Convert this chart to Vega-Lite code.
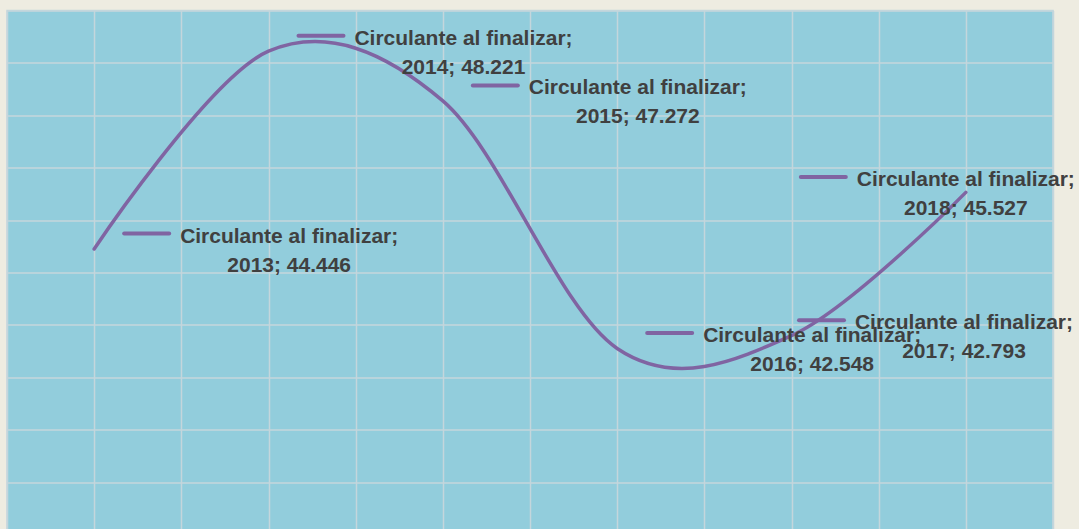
{
  "$schema": "https://vega.github.io/schema/vega-lite/v6.json",
  "width": 1046,
  "height": 524,
  "autosize": {"type": "none"},
  "padding": {"left": 7, "top": 10.4, "right": 26, "bottom": 0},
  "background": "#EEECE1",
  "config": {
    "view": {"fill": "#92CDDC", "stroke": "#C4D6DC", "strokeWidth": 1.5},
    "axis": {"labels": false, "ticks": false, "domain": false, "title": null, "gridColor": "#C4D6DC", "gridWidth": 1.5, "gridOpacity": 1}
  },
  "datasets": {
    "datos": [
      {"anio": 2013, "valor": 44.446, "serie": "Circulante al finalizar", "etiqueta": "Circulante al finalizar;\n2013; 44.446"},
      {"anio": 2014, "valor": 48.221, "serie": "Circulante al finalizar", "etiqueta": "Circulante al finalizar;\n2014; 48.221"},
      {"anio": 2015, "valor": 47.272, "serie": "Circulante al finalizar", "etiqueta": "Circulante al finalizar;\n2015; 47.272"},
      {"anio": 2016, "valor": 42.548, "serie": "Circulante al finalizar", "etiqueta": "Circulante al finalizar;\n2016; 42.548"},
      {"anio": 2017, "valor": 42.793, "serie": "Circulante al finalizar", "etiqueta": "Circulante al finalizar;\n2017; 42.793"},
      {"anio": 2018, "valor": 45.527, "serie": "Circulante al finalizar", "etiqueta": "Circulante al finalizar;\n2018; 45.527"}
    ]
  },
  "data": {"name": "datos"},
  "encoding": {
    "x": {"field": "anio", "type": "quantitative", "scale": {"domain": [2012.5, 2018.5], "nice": false, "zero": false},
      "axis": {"values": [2012.5, 2013, 2013.5, 2014, 2014.5, 2015, 2015.5, 2016, 2016.5, 2017, 2017.5, 2018, 2018.5]}},
    "y": {"field": "valor", "type": "quantitative", "scale": {"domain": [39, 49], "nice": false, "zero": false},
      "axis": {"values": [39, 40, 41, 42, 43, 44, 45, 46, 47, 48, 49]}}
  },
  "layer": [
    {"mark": {"type": "line", "interpolate": "cardinal", "color": "#8064A2", "strokeWidth": 3.5, "strokeCap": "round"}},
    {"transform": [{"filter": "datum.anio <= 2016"}],
     "mark": {"type": "rule", "color": "#8064A2", "strokeWidth": 4, "strokeCap": "round", "xOffset": 30, "x2Offset": 75, "yOffset": -15.5},
     "encoding": {"x2": {"field": "anio"}}},
    {"transform": [{"filter": "datum.anio == 2017"}],
     "mark": {"type": "rule", "color": "#8064A2", "strokeWidth": 4, "strokeCap": "round", "xOffset": 7.5, "x2Offset": 52.5, "yOffset": -15.5},
     "encoding": {"x2": {"field": "anio"}}},
    {"transform": [{"filter": "datum.anio == 2018"}],
     "mark": {"type": "rule", "color": "#8064A2", "strokeWidth": 4, "strokeCap": "round", "xOffset": -165, "x2Offset": -120, "yOffset": -15.5},
     "encoding": {"x2": {"field": "anio"}}},
    {"transform": [{"filter": "datum.anio <= 2016"}],
     "mark": {"type": "text", "font": "Liberation Sans", "fontSize": 21, "fontWeight": "bold", "color": "#404040", "align": "center", "baseline": "alphabetic", "lineBreak": "\n", "lineHeight": 29, "dx": 195, "dy": -6.5},
     "encoding": {"text": {"field": "etiqueta"}}},
    {"transform": [{"filter": "datum.anio == 2017"}],
     "mark": {"type": "text", "font": "Liberation Sans", "fontSize": 21, "fontWeight": "bold", "color": "#404040", "align": "center", "baseline": "alphabetic", "lineBreak": "\n", "lineHeight": 29, "dx": 172.5, "dy": -6.5},
     "encoding": {"text": {"field": "etiqueta"}}},
    {"transform": [{"filter": "datum.anio == 2018"}],
     "mark": {"type": "text", "font": "Liberation Sans", "fontSize": 21, "fontWeight": "bold", "color": "#404040", "align": "center", "baseline": "alphabetic", "lineBreak": "\n", "lineHeight": 29, "dx": 0, "dy": -6.5},
     "encoding": {"text": {"field": "etiqueta"}}}
  ]
}
